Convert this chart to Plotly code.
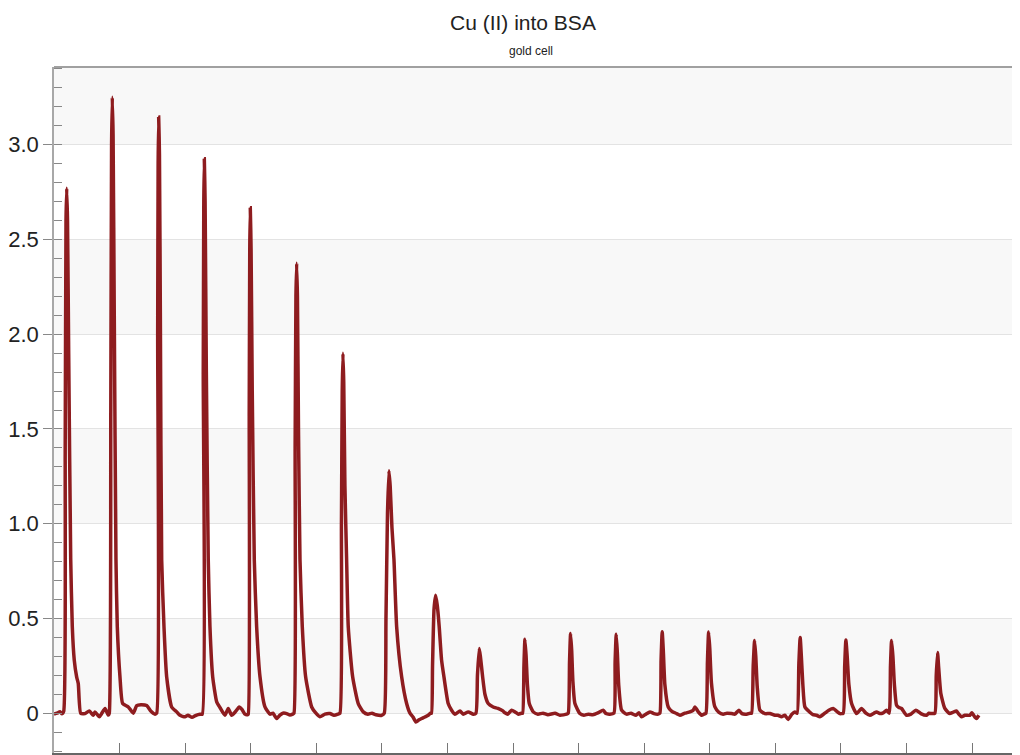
import plotly.graph_objects as go

# ---- data ----
title_text = "Cu (II) into BSA"
subtitle_text = "gold cell"

time_s = [
    0, 4.6, 9.1, 12.2,
    14.8, 17.1, 18.3, 19.4, 20.6, 22.4, 25.5, 27.9, 30.9, 34.6, 37.0, 40.7, 47.3, 53.8, 59.9, 62.5, 69.1, 72.7, 77.8, 82.8,
    84.3, 86.6, 87.8, 88.9, 90.1, 91.9, 94.5, 96.5, 100.6, 104.7, 113.3, 120.9, 126.1, 132.6, 141.3, 147.9, 154.0,
    156.6, 158.1, 158.8, 159.6, 160.8, 162.3, 164.2, 167.7, 171.8, 179.4, 187.1, 192.1, 199.7, 204.3, 210.4, 216.5, 222.6,
    226.1, 227.6, 228.4, 229.2, 230.4, 232.3, 235.2, 237.8, 242.0, 248.1, 253.1, 260.7, 265.7, 270.9, 276.0, 282.5, 286.6, 291.2, 295.0,
    296.2, 297.7, 298.5, 299.3, 300.5, 302.3, 305.4, 309.0, 314.1, 321.7, 329.3, 333.9, 339.5, 344.5, 349.1, 354.8, 359.8, 364.0,
    365.9, 367.7, 368.9, 370.0, 371.2, 372.8, 375.1, 378.6, 383.7, 392.9, 399.4, 405.5, 413.1, 420.8, 426.9, 433.0,
    436.0, 438.3, 439.5, 440.6, 441.8, 443.6, 446.2, 448.7, 455.4, 463.9, 471.6, 478.7, 484.8, 490.9, 499.6,
    503.6, 506.2, 508.5, 510.7, 512.6, 515.3, 518.4, 522.5, 530.1, 537.7, 542.8, 547.4, 551.9, 556.5, 560.6, 565.6, 570.7, 574.1,
    575.6, 577.2, 579.5, 581.9, 584.4, 587.4, 591.0, 594.6, 601.1, 606.3, 611.4, 619.0, 624.1, 631.7, 639.3,
    643.4, 645.7, 648.4, 650.2, 653.6, 657.1, 662.1, 669.7, 677.0, 684.5, 687.6, 692.1, 697.8, 703.0, 708.0, 713.0,
    714.6, 716.6, 718.1, 719.9, 721.9, 724.7, 730.8, 737.9, 745.6, 753.2, 763.9, 771.5, 781.7,
    784.1, 786.1, 787.7, 789.4, 791.2, 794.3, 801.9, 808.0, 814.6, 821.7, 829.4, 837.4, 841.6, 847.7,
    853.8, 855.6, 857.3, 859.0, 861.1, 865.5, 873.1, 879.7, 887.3, 891.9, 896.0, 902.5, 908.7, 914.8, 921.3,
    923.9, 925.7, 927.4, 929.1, 931.5, 936.6, 942.2, 949.4, 954.4, 962.0, 969.6, 974.7, 977.3, 981.9, 987.5, 991.0,
    994.1, 996.4, 998.2, 1000.0, 1002.5, 1007.8, 1013.9, 1020.4, 1026.1, 1033.2, 1038.2, 1044.4, 1049.0, 1056.1, 1061.2,
    1063.7, 1066.2, 1068.3, 1070.1, 1072.3, 1076.4, 1084.0, 1091.6, 1099.2, 1103.8, 1109.4, 1114.4, 1119.5, 1125.2, 1129.7,
    1133.2, 1135.8, 1137.8, 1139.6, 1141.9, 1145.0, 1152.6, 1157.2, 1162.8, 1167.8, 1175.4, 1181.5, 1188.1, 1193.7, 1198.4,
    1203.4, 1205.7, 1207.5, 1209.5, 1212.1, 1216.2, 1223.8, 1231.4, 1238.0, 1244.1, 1250.2, 1254.3, 1259.3, 1264.4, 1269.5,
    1273.5, 1275.5, 1277.2, 1279.2, 1281.5, 1284.8, 1288.3, 1292.4, 1300.0, 1306.6, 1314.2, 1321.8, 1330.5, 1334.0, 1338.2,
    1343.2, 1345.3, 1347.3, 1349.0, 1352.3, 1358.4, 1366.0, 1370.6, 1376.2, 1379.7, 1383.9, 1388.9, 1396.5, 1399.6, 1404.1, 1406.7, 1410.3,
]

signal = [
    -0.005, 0.0, 0.008, -0.003,
    0.01, 1.4, 2.6, 2.77, 2.6, 1.9, 0.81, 0.456, 0.28, 0.19, 0.157, 0.0, -0.002, 0.012, -0.011, 0.007, -0.019, -0.002, 0.025, -0.01,
    0.0, 1.6, 3.0, 3.25, 3.05, 2.1, 0.81, 0.456, 0.192, 0.051, 0.033, 0.0, 0.04, 0.045, 0.04, 0.01, -0.005,
    0.0, 2.0, 2.9, 3.146, 2.95, 2.0, 0.81, 0.456, 0.192, 0.033, 0.007, -0.011, -0.019, -0.011, -0.022, -0.011, -0.005,
    -0.005, 1.8, 2.7, 2.926, 2.7, 1.8, 0.81, 0.456, 0.192, 0.06, 0.03, -0.011, 0.025, -0.011, 0.005, 0.033, 0.02, -0.005, -0.008,
    -0.005, 1.6, 2.45, 2.667, 2.45, 1.7, 0.81, 0.456, 0.192, 0.033, -0.005, 0.0, -0.028, -0.01, 0.0, -0.002, -0.01, -0.005,
    0.0, 1.4, 2.2, 2.375, 2.2, 1.5, 0.81, 0.456, 0.192, 0.033, 0.0, -0.019, -0.005, -0.002, -0.011, -0.005,
    0.0, 1.0, 1.7, 1.90, 1.75, 1.2, 0.81, 0.456, 0.192, 0.051, 0.007, -0.005, 0.0, -0.008, -0.011,
    0.0, 0.5, 1.05, 1.28, 1.2, 0.98, 0.81, 0.456, 0.192, 0.051, 0.0, -0.02, -0.046, -0.035, -0.028, -0.02, -0.011, 0.0,
    0.0, 0.25, 0.55, 0.623, 0.57, 0.456, 0.28, 0.192, 0.051, 0.016, -0.005, 0.012, -0.005, 0.007, -0.005,
    0.0, 0.2, 0.342, 0.3, 0.192, 0.1, 0.051, 0.033, 0.025, 0.012, 0.002, -0.005, 0.016, 0.007, -0.005, 0.0,
    0.0, 0.25, 0.39, 0.3, 0.15, 0.051, 0.007, -0.005, 0.0, -0.008, 0.0, -0.011, -0.005,
    0.0, 0.27, 0.42, 0.33, 0.17, 0.051, -0.002, -0.011, -0.005, -0.008, 0.002, 0.016, -0.002, -0.005,
    0.0, 0.27, 0.417, 0.32, 0.15, 0.016, -0.005, 0.0, -0.011, 0.002, -0.019, -0.005, 0.007, -0.002, -0.005,
    0.0, 0.28, 0.43, 0.33, 0.15, 0.033, 0.01, -0.002, -0.011, 0.0, 0.007, 0.016, 0.033, 0.01, -0.011, -0.005,
    0.0, 0.27, 0.428, 0.34, 0.16, 0.033, 0.005, -0.005, 0.0, -0.002, -0.005, 0.016, -0.002, -0.005, 0.0,
    0.0, 0.25, 0.384, 0.3, 0.14, 0.016, -0.002, -0.002, -0.011, -0.011, -0.019, -0.011, -0.033, -0.005, 0.007,
    0.0, 0.26, 0.40, 0.3, 0.15, 0.033, 0.005, -0.008, -0.011, -0.019, 0.0, 0.016, 0.025, 0.01, -0.002,
    0.0, 0.25, 0.386, 0.3, 0.15, 0.051, -0.002, 0.025, 0.0, -0.011, 0.0, 0.007, -0.002, 0.002, 0.016,
    0.0, 0.25, 0.384, 0.3, 0.15, 0.042, 0.03, 0.025, -0.011, -0.005, 0.016, -0.002, -0.011, 0.0, -0.002,
    0.0, 0.2, 0.32, 0.24, 0.104, 0.025, -0.002, 0.005, 0.012, -0.005, -0.019, -0.011, -0.011, 0.002, -0.02, -0.028, -0.011,
]

y_tick_vals = [0, 0.5, 1.0, 1.5, 2.0, 2.5, 3.0]
y_tick_text = ["0", "0.5", "1.0", "1.5", "2.0", "2.5", "3.0"]
x_range = [0, 1473]
y_range = [-0.21, 3.41]

FONT = "Liberation Sans, Arial, Helvetica, sans-serif"

fig = go.Figure()
fig.add_trace(go.Scatter(
    x=time_s, y=signal, mode="lines",
    line=dict(color="#8e1c1f", width=3.5, shape="spline", smoothing=0.5),
    hoverinfo="skip", showlegend=False,
))

# alternating shaded bands between the major gridlines
edges = y_tick_vals + [y_range[1]]
for i in range(0, len(edges) - 1, 2):
    fig.add_shape(type="rect", xref="paper", x0=0, x1=1, yref="y",
                  y0=edges[i], y1=edges[i + 1],
                  fillcolor="#f8f8f8", line_width=0, layer="below")

# top border line
fig.add_shape(type="line", xref="paper", yref="paper", x0=0, x1=1, y0=1, y1=1,
              line=dict(color="#a0a0a0", width=2))

# the page body has an 8px margin, so the figure is sized to end at the window edge
fig.update_layout(
    width=1012, height=747,
    margin=dict(l=46, r=0, t=59, b=2, pad=0, autoexpand=False),
    paper_bgcolor="white", plot_bgcolor="white",
    font=dict(family=FONT, color="#222"),
    showlegend=False,
    annotations=[
        dict(text=title_text, xref="paper", yref="paper", x=0.4855, y=1.0655,
             xanchor="center", yanchor="middle", showarrow=False,
             font=dict(size=21, color="#222", family=FONT)),
        dict(text=subtitle_text, xref="paper", yref="paper", x=0.4943, y=1.0233,
             xanchor="center", yanchor="middle", showarrow=False,
             font=dict(size=12, color="#222", family=FONT)),
    ],
)

fig.update_xaxes(
    range=x_range, showgrid=False, zeroline=False, automargin=False,
    showline=True, linecolor="#666", linewidth=2,
    ticks="inside", ticklen=10, tickwidth=1, tickcolor="#777",
    tickmode="linear", tick0=0, dtick=100, showticklabels=False,
)

fig.update_yaxes(
    range=y_range, zeroline=False, automargin=False,
    showgrid=True, gridcolor="#e3e3e3", gridwidth=1,
    showline=True, linecolor="#a8a8a8", linewidth=1.5,
    tickmode="array", tickvals=y_tick_vals, ticktext=y_tick_text,
    ticks="outside", ticklen=9, tickwidth=1, tickcolor="#888",
    tickfont=dict(size=22, color="#222", family=FONT),
    minor=dict(tickmode="linear", tick0=0, dtick=0.1, ticks="inside",
               ticklen=8, tickwidth=1, tickcolor="#888", showgrid=False),
)

fig.write_html("out.html", config={"displayModeBar": False})
